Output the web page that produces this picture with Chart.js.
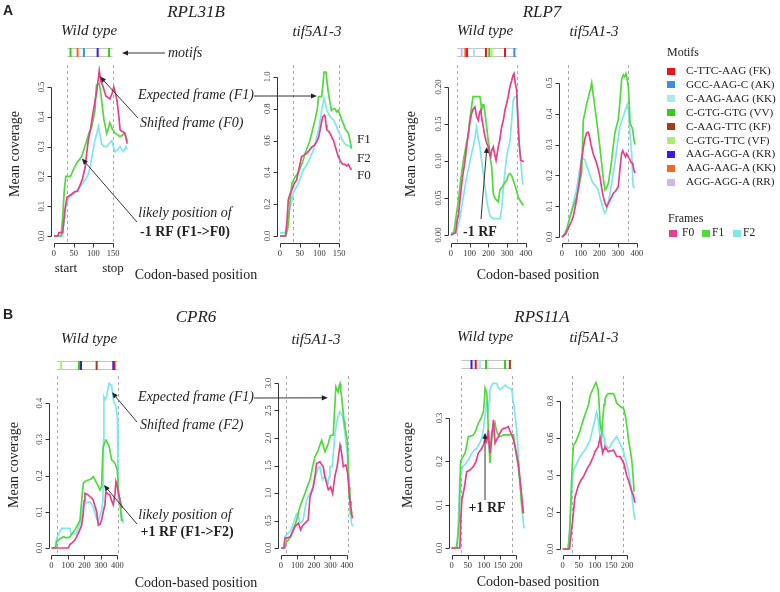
<!DOCTYPE html>
<html><head><meta charset="utf-8">
<script src="https://cdn.jsdelivr.net/npm/chart.js@4.4.1/dist/chart.umd.min.js"></script>
<style>
body{margin:0;background:#fff;}
#wrap{position:relative;width:780px;height:592px;overflow:hidden;font-family:"Liberation Serif",serif;color:#222;background:#fff;}
#wrap canvas{position:absolute;left:0;top:0;}
.t{position:absolute;white-space:nowrap;line-height:1;transform:translate(-50%,-50%);}
.l{transform:translate(0,-50%);}
.i{font-style:italic;}
.b{font-weight:bold;}
.rot{transform:translate(-50%,-50%) rotate(-90deg);}
.sq{position:absolute;width:8px;height:7px;}
</style></head>
<body><div id="wrap"></div>
<script>
// ---------------- colours ----------------
const FRAME_NAMES = ['F0','F1','F2'];
const FRAME_COLORS = ['#e6408c','#52d93f','#80e6ee'];
const MOTIF_KEYS = ['FK','AK','KK','VV','KF','VF','KR','KK2','RR'];
const MOTIF_NAMES = ['C-TTC-AAG (FK)','GCC-AAG-C (AK)','C-AAG-AAG (KK)','C-GTG-GTG (VV)','C-AAG-TTC (KF)','C-GTG-TTC (VF)','AAG-AGG-A (KR)','AAG-AAG-A (KK)','AGG-AGG-A (RR)'];
const MOTIF_COLORS = ['#e8161e','#3a8fe0','#aee6ee','#33cc1a','#a33d1a','#aaf06e','#3a1ae8','#f06a1e','#d2b4f0'];

// ---------------- tick labels ----------------
const ticks_x150 = ['0','50','100','150'];
const ticks_x400 = ['0','100','200','300','400'];
const ticks_x200 = ['0','50','100','150','200'];
const rpl31b_wt_yticks = ['0.0','0.1','0.2','0.3','0.4','0.5'];
const rpl31b_tif_yticks = ['0.0','0.2','0.4','0.6','0.8','1.0'];
const rlp7_wt_yticks = ['0.00','0.05','0.10','0.15','0.20'];
const rlp7_tif_yticks = ['0.0','0.1','0.2','0.3','0.4','0.5'];
const cpr6_wt_yticks = ['0.0','0.1','0.2','0.3','0.4'];
const cpr6_tif_yticks = ['0.0','0.5','1.0','1.5','2.0','2.5','3.0'];
const rps11a_wt_yticks = ['0.0','0.1','0.2','0.3'];
const rps11a_tif_yticks = ['0.0','0.2','0.4','0.6','0.8'];

// ---------------- CDS (start, stop codon) ----------------
const rpl31b_cds = [34,149];
const rlp7_cds = [33,355];
const cpr6_cds = [33,404];
const rps11a_cds = [30,188];

// ---------------- motifs [codon, key] ----------------
const rpl31b_motifs = [[42,'VV'],[60,'KK2'],[76,'AK'],[111,'KR'],[140,'VV']];
const rlp7_motifs = [[57,'RR'],[77,'KK2'],[86,'FK'],[123,'KK'],[187,'FK'],[205,'VV'],[218,'VF'],[289,'FK'],[339,'AK']];
const cpr6_motifs = [[58,'VF'],[167,'VV'],[179,'KR'],[274,'KF'],[375,'KR'],[382,'FK']];
const rps11a_motifs = [[62,'KR'],[75,'FK'],[88,'KK'],[107,'VV'],[166,'VV'],[181,'KF']];

// ---------------- coverage series [codon, mean coverage] ----------------
const rpl31b_wt_f0 = [[0,0],[10,0],[12,0.011],[22,0.011],[28,0.09],[33,0.13],[41,0.137],[53,0.149],[60,0.15],[66,0.17],[72,0.19],[79,0.23],[87,0.32],[93,0.36],[100,0.42],[108,0.48],[112,0.52],[115,0.555],[119,0.52],[125,0.50],[132,0.47],[142,0.46],[148,0.48],[152,0.50],[156,0.48],[160,0.456],[165,0.40],[168,0.356],[175,0.35],[180,0.345],[183,0.33],[186,0.31]];
const rpl31b_wt_f1 = [[0,0],[18,0],[22,0.06],[26,0.15],[30,0.2],[42,0.2],[50,0.225],[58,0.245],[70,0.266],[76,0.29],[83,0.32],[90,0.35],[96,0.367],[104,0.42],[106,0.47],[108,0.507],[112,0.51],[115,0.512],[118,0.49],[121,0.456],[127,0.39],[134,0.345],[138,0.36],[142,0.38],[148,0.36],[155,0.345],[162,0.34],[168,0.333],[175,0.34],[180,0.345],[186,0.32]];
const rpl31b_wt_f2 = [[0,0],[22,0],[28,0.08],[34,0.12],[40,0.13],[50,0.14],[58,0.154],[66,0.165],[72,0.175],[79,0.188],[85,0.2],[92,0.23],[98,0.28],[104,0.32],[110,0.35],[113,0.367],[117,0.34],[121,0.31],[127,0.30],[134,0.30],[140,0.31],[147,0.32],[151,0.30],[155,0.283],[162,0.29],[168,0.30],[172,0.29],[176,0.283],[180,0.29],[183,0.30],[186,0.29]];

const rpl31b_tif_f0 = [[0,0],[14,0],[18,0.1],[21,0.226],[25,0.26],[30,0.29],[36,0.33],[42,0.35],[48,0.42],[55,0.50],[62,0.51],[68,0.52],[75,0.54],[81,0.56],[87,0.57],[93,0.59],[98,0.62],[102,0.667],[106,0.72],[109,0.75],[113,0.76],[115,0.75],[117,0.70],[119,0.667],[123,0.66],[127,0.646],[132,0.62],[136,0.60],[142,0.55],[148,0.50],[152,0.48],[157,0.457],[161,0.45],[165,0.45],[170,0.44],[174,0.45],[178,0.43],[182,0.415]];
const rpl31b_tif_f1 = [[0,0],[15,0],[20,0.05],[25,0.2],[30,0.33],[38,0.37],[44,0.39],[51,0.425],[58,0.47],[64,0.52],[70,0.56],[76,0.60],[82,0.66],[89,0.73],[95,0.80],[98,0.876],[106,0.876],[109,0.95],[112,1.03],[117,1.03],[120,0.96],[123,0.90],[127,0.84],[131,0.79],[136,0.80],[140,0.80],[144,0.78],[148,0.79],[153,0.76],[157,0.73],[162,0.70],[165,0.677],[170,0.66],[174,0.646],[178,0.60],[182,0.55]];
const rpl31b_tif_f2 = [[0,0.02],[12,0.02],[18,0.05],[22,0.12],[25,0.18],[30,0.23],[34,0.27],[40,0.30],[47,0.33],[53,0.37],[59,0.415],[66,0.44],[72,0.467],[78,0.50],[85,0.54],[91,0.60],[98,0.667],[103,0.74],[106,0.79],[109,0.83],[112,0.866],[115,0.84],[119,0.79],[123,0.77],[127,0.75],[132,0.74],[136,0.73],[140,0.71],[144,0.687],[148,0.66],[153,0.635],[159,0.60],[165,0.58],[170,0.57],[174,0.57],[178,0.56],[182,0.55]];

const rlp7_wt_f0 = [[0,0],[25,0.003],[33,0.02],[40,0.027],[48,0.047],[60,0.075],[75,0.10],[84,0.12],[93,0.137],[100,0.15],[110,0.164],[118,0.17],[128,0.173],[137,0.16],[146,0.155],[152,0.165],[159,0.169],[166,0.155],[173,0.146],[180,0.135],[187,0.128],[194,0.122],[200,0.119],[206,0.11],[212,0.106],[219,0.115],[226,0.119],[233,0.11],[241,0.101],[247,0.11],[253,0.119],[262,0.13],[271,0.146],[280,0.155],[289,0.169],[298,0.178],[306,0.187],[315,0.2],[325,0.209],[331,0.215],[337,0.218],[344,0.205],[351,0.196],[356,0.17],[360,0.146],[366,0.12],[373,0.101],[390,0.099]];
const rlp7_wt_f1 = [[0,0],[15,0.003],[22,0.015],[30,0.03],[40,0.047],[52,0.075],[66,0.10],[80,0.12],[93,0.137],[100,0.155],[110,0.173],[118,0.187],[128,0.187],[140,0.187],[155,0.187],[164,0.169],[170,0.176],[176,0.176],[184,0.16],[191,0.146],[198,0.13],[205,0.119],[212,0.10],[218,0.092],[226,0.056],[235,0.05],[244,0.047],[253,0.045],[262,0.061],[275,0.065],[286,0.07],[298,0.074],[306,0.08],[316,0.083],[325,0.08],[333,0.074],[345,0.065],[355,0.056],[362,0.05],[369,0.047],[378,0.043],[390,0.04]];
const rlp7_wt_f2 = [[0,0.003],[28,0.003],[35,0.01],[45,0.02],[55,0.035],[65,0.05],[75,0.065],[85,0.08],[94,0.09],[102,0.10],[110,0.11],[119,0.119],[128,0.132],[137,0.146],[146,0.13],[155,0.119],[164,0.1],[173,0.083],[182,0.065],[191,0.047],[200,0.035],[210,0.025],[226,0.022],[245,0.022],[262,0.022],[268,0.03],[275,0.045],[280,0.065],[289,0.085],[298,0.106],[307,0.117],[316,0.128],[325,0.155],[333,0.182],[342,0.187],[351,0.187],[356,0.16],[360,0.146],[366,0.12],[373,0.101],[378,0.085],[383,0.07],[390,0.068]];

const rlp7_tif_f0 = [[0,0],[20,0.01],[35,0.03],[50,0.05],[60,0.066],[78,0.12],[96,0.196],[105,0.25],[114,0.29],[123,0.32],[132,0.337],[140,0.34],[146,0.33],[155,0.30],[167,0.27],[176,0.255],[185,0.24],[194,0.22],[203,0.196],[212,0.16],[221,0.13],[230,0.11],[239,0.098],[248,0.11],[257,0.12],[266,0.13],[275,0.142],[288,0.15],[301,0.163],[310,0.22],[319,0.27],[325,0.28],[332,0.27],[340,0.26],[346,0.27],[355,0.26],[364,0.25],[371,0.24],[378,0.24],[384,0.22],[390,0.207]];
const rlp7_tif_f1 = [[0,0],[15,0.01],[28,0.03],[43,0.066],[60,0.10],[78,0.13],[92,0.17],[105,0.207],[110,0.3],[114,0.38],[122,0.40],[132,0.434],[140,0.45],[146,0.466],[152,0.48],[159,0.50],[165,0.47],[170,0.45],[176,0.42],[185,0.38],[194,0.337],[203,0.29],[212,0.24],[221,0.19],[230,0.153],[239,0.16],[248,0.174],[257,0.21],[266,0.25],[275,0.30],[283,0.337],[292,0.36],[301,0.38],[310,0.44],[319,0.51],[328,0.526],[335,0.52],[342,0.53],[349,0.51],[355,0.488],[360,0.43],[364,0.37],[371,0.36],[378,0.35],[384,0.32],[390,0.30]];
const rlp7_tif_f2 = [[0,0],[15,0.01],[28,0.03],[43,0.066],[60,0.11],[78,0.153],[92,0.21],[105,0.26],[114,0.255],[123,0.25],[132,0.23],[141,0.217],[150,0.2],[158,0.185],[167,0.174],[180,0.165],[194,0.153],[203,0.13],[212,0.11],[221,0.09],[230,0.077],[239,0.09],[248,0.11],[257,0.14],[266,0.174],[275,0.21],[283,0.24],[290,0.27],[296,0.30],[303,0.33],[310,0.358],[319,0.375],[328,0.39],[338,0.41],[349,0.43],[355,0.41],[360,0.37],[366,0.32],[373,0.27],[378,0.2],[381,0.163],[390,0.16]];

const cpr6_wt_f0 = [[0,0],[102,0],[112,0.01],[122,0.013],[142,0.022],[162,0.04],[183,0.063],[193,0.096],[198,0.13],[203,0.151],[218,0.148],[233,0.142],[245,0.138],[253,0.133],[264,0.115],[274,0.1],[284,0.063],[294,0.065],[304,0.077],[314,0.1],[324,0.119],[330,0.155],[340,0.15],[354,0.146],[365,0.13],[375,0.119],[385,0.15],[391,0.183],[399,0.17],[407,0.15],[415,0.133],[422,0.12],[431,0.11]];
const cpr6_wt_f1 = [[0,0],[25,0],[31,0.017],[50,0.025],[72,0.031],[90,0.028],[110,0.03],[125,0.04],[142,0.05],[160,0.065],[173,0.077],[183,0.13],[193,0.179],[208,0.185],[223,0.188],[238,0.19],[253,0.197],[264,0.188],[274,0.179],[284,0.17],[294,0.16],[304,0.17],[310,0.25],[314,0.28],[322,0.29],[330,0.298],[340,0.29],[350,0.28],[358,0.26],[365,0.243],[375,0.24],[385,0.234],[392,0.225],[399,0.215],[405,0.17],[410,0.14],[415,0.133],[420,0.1],[425,0.077],[435,0.077]];
const cpr6_wt_f2 = [[0,0],[22,0],[31,0.027],[45,0.04],[62,0.054],[112,0.054],[118,0.04],[150,0.04],[165,0.06],[173,0.068],[183,0.09],[193,0.119],[213,0.125],[233,0.128],[245,0.12],[255,0.11],[264,0.096],[275,0.08],[284,0.073],[294,0.09],[304,0.105],[312,0.133],[316,0.3],[318,0.418],[326,0.41],[334,0.418],[342,0.44],[350,0.455],[358,0.45],[365,0.45],[370,0.43],[375,0.409],[383,0.4],[391,0.39],[397,0.37],[400,0.354],[403,0.2],[405,0.133],[415,0.12],[425,0.096],[435,0.068]];

const cpr6_tif_f0 = [[0,0],[18,0],[24,0.18],[40,0.19],[55,0.2],[70,0.3],[85,0.39],[95,0.42],[105,0.45],[112,0.4],[119,0.33],[130,0.4],[145,0.45],[155,0.48],[165,0.51],[170,0.7],[176,0.93],[186,1.02],[196,1.11],[206,1.3],[216,1.54],[226,1.55],[236,1.57],[246,1.52],[256,1.48],[266,1.3],[277,1.18],[287,1.06],[294,1.08],[301,1.11],[307,1.05],[313,0.99],[320,1.15],[327,1.3],[334,1.4],[341,1.48],[350,1.7],[358,1.87],[363,1.8],[368,1.72],[373,1.6],[378,1.48],[386,1.5],[394,1.51],[404,1.36],[409,1.2],[414,0.99],[419,0.85],[424,0.75],[429,0.62],[434,0.54]];
const cpr6_tif_f1 = [[0,0],[20,0],[24,0.02],[30,0.08],[34,0.11],[50,0.17],[65,0.24],[80,0.38],[95,0.51],[105,0.63],[115,0.75],[130,0.87],[145,0.99],[160,1.12],[176,1.24],[190,1.45],[206,1.66],[216,1.72],[226,1.78],[237,1.88],[247,1.96],[257,1.85],[267,1.75],[277,1.82],[287,1.90],[294,1.98],[301,2.05],[309,2.05],[317,2.05],[325,2.5],[333,2.93],[340,2.88],[347,2.84],[353,2.95],[358,2.99],[363,2.85],[368,2.75],[373,2.6],[378,2.45],[383,2.3],[388,2.2],[395,2.08],[402,1.96],[408,1.5],[414,1.11],[418,0.85],[422,0.63],[432,0.66]];
const cpr6_tif_f2 = [[0,0],[18,0],[24,0.2],[34,0.24],[44,0.27],[55,0.3],[65,0.36],[75,0.45],[85,0.54],[92,0.6],[99,0.63],[107,0.55],[115,0.45],[125,0.48],[135,0.51],[145,0.7],[156,0.87],[170,0.96],[186,1.05],[196,1.15],[206,1.27],[216,1.36],[226,1.45],[236,1.48],[244,1.35],[252,1.24],[260,1.28],[267,1.30],[277,1.24],[287,1.18],[292,1.3],[297,1.48],[304,1.48],[311,1.48],[318,1.75],[327,2.05],[334,2.2],[341,2.33],[350,2.42],[358,2.48],[366,2.44],[374,2.39],[381,2.25],[388,2.08],[395,1.9],[402,1.72],[408,1.35],[414,0.99],[420,0.7],[428,0.45],[434,0.39]];

const rps11a_wt_f0 = [[0,0],[26,0],[29,0.07],[32,0.11],[40,0.14],[47,0.176],[57,0.18],[68,0.188],[76,0.2],[83,0.219],[94,0.23],[100,0.24],[104,0.253],[109,0.245],[112,0.26],[114,0.273],[117,0.24],[119,0.219],[122,0.24],[125,0.265],[128,0.28],[130,0.296],[133,0.26],[135,0.242],[140,0.25],[145,0.257],[150,0.265],[156,0.273],[161,0.276],[166,0.276],[171,0.278],[176,0.28],[181,0.27],[187,0.261],[192,0.25],[197,0.234],[202,0.215],[207,0.196],[212,0.16],[218,0.118],[223,0.08]];
const rps11a_wt_f1 = [[0,0],[15,0],[20,0.03],[24,0.065],[28,0.2],[35,0.21],[42,0.219],[48,0.24],[52,0.257],[67,0.26],[75,0.27],[83,0.288],[92,0.3],[99,0.315],[102,0.34],[104,0.369],[109,0.36],[112,0.32],[114,0.273],[117,0.23],[119,0.196],[122,0.226],[125,0.25],[128,0.273],[135,0.288],[138,0.275],[142,0.265],[150,0.257],[161,0.261],[171,0.261],[181,0.261],[188,0.261],[192,0.261],[197,0.234],[202,0.21],[207,0.188],[212,0.15],[218,0.095],[221,0.08]];
const rps11a_wt_f2 = [[0,0],[18,0],[22,0.08],[26,0.165],[35,0.188],[45,0.195],[52,0.203],[63,0.219],[70,0.225],[78,0.23],[86,0.24],[94,0.253],[100,0.28],[104,0.303],[109,0.334],[112,0.33],[114,0.32],[117,0.34],[119,0.365],[124,0.375],[128,0.38],[134,0.38],[140,0.38],[145,0.37],[150,0.365],[158,0.37],[166,0.376],[176,0.37],[184,0.368],[187,0.365],[190,0.345],[194,0.326],[198,0.3],[202,0.273],[206,0.23],[210,0.18],[214,0.14],[218,0.095],[222,0.065],[225,0.045]];

const rps11a_tif_f0 = [[0,0],[21,0],[26,0.08],[31,0.157],[35,0.23],[38,0.28],[43,0.31],[48,0.34],[56,0.37],[64,0.39],[72,0.42],[79,0.445],[85,0.46],[90,0.48],[95,0.5],[100,0.526],[105,0.54],[110,0.553],[113,0.58],[116,0.60],[120,0.56],[124,0.52],[128,0.54],[131,0.553],[136,0.54],[141,0.526],[149,0.53],[157,0.535],[162,0.52],[167,0.50],[172,0.50],[178,0.50],[184,0.48],[190,0.46],[194,0.43],[198,0.40],[204,0.37],[209,0.34],[214,0.31],[219,0.29],[224,0.25]];
const rps11a_tif_f1 = [[0,0],[17,0],[22,0.1],[28,0.39],[33,0.56],[38,0.57],[43,0.59],[54,0.64],[64,0.70],[74,0.75],[80,0.78],[85,0.83],[95,0.87],[103,0.90],[107,0.88],[110,0.86],[113,0.78],[116,0.68],[121,0.625],[124,0.7],[128,0.78],[131,0.81],[136,0.83],[141,0.84],[149,0.84],[157,0.84],[162,0.82],[167,0.79],[172,0.78],[178,0.77],[183,0.765],[188,0.76],[192,0.74],[196,0.70],[200,0.65],[204,0.59],[209,0.54],[214,0.48],[218,0.4],[221,0.31]];
const rps11a_tif_f2 = [[0,0],[17,0],[21,0.1],[25,0.23],[29,0.35],[33,0.42],[38,0.44],[43,0.46],[54,0.50],[62,0.52],[69,0.535],[77,0.56],[85,0.59],[93,0.65],[100,0.70],[105,0.74],[110,0.70],[114,0.63],[118,0.57],[124,0.634],[128,0.6],[131,0.57],[136,0.555],[141,0.544],[146,0.55],[152,0.57],[160,0.59],[167,0.607],[172,0.59],[178,0.57],[184,0.545],[190,0.517],[198,0.46],[204,0.42],[209,0.37],[213,0.32],[216,0.265],[220,0.2],[224,0.157]];

// ---------------- panel layout ----------------
const panels = [
 {id:'A1', box:[51,65,130,243], xr:[-7.6,193.2], yr:[-0.0235,0.574], cds:rpl31b_cds, xt:ticks_x150, yt:rpl31b_wt_yticks, s:[rpl31b_wt_f0,rpl31b_wt_f1,rpl31b_wt_f2], motifs:rpl31b_motifs, bar:[48,57]},
 {id:'A2', box:[277,65,356,243], xr:[-7.6,193.2], yr:[-0.044,1.075], cds:rpl31b_cds, xt:ticks_x150, yt:rpl31b_tif_yticks, s:[rpl31b_tif_f0,rpl31b_tif_f1,rpl31b_tif_f2]},
 {id:'A3', box:[448,65,526.8,243], xr:[-16,405.6], yr:[-0.0108,0.2297], cds:rlp7_cds, xt:ticks_x400, yt:rlp7_wt_yticks, s:[rlp7_wt_f0,rlp7_wt_f1,rlp7_wt_f2], motifs:rlp7_motifs, bar:[48,57]},
 {id:'A4', box:[559,65,637.8,243], xr:[-16,405.6], yr:[-0.0195,0.558], cds:rlp7_cds, xt:ticks_x400, yt:rlp7_tif_yticks, s:[rlp7_tif_f0,rlp7_tif_f1,rlp7_tif_f2]},
 {id:'B1', box:[48.5,376,126,555], xr:[-18.2,452], yr:[-0.0193,0.475], cds:cpr6_cds, xt:ticks_x400, yt:cpr6_wt_yticks, s:[cpr6_wt_f0,cpr6_wt_f1,cpr6_wt_f2], motifs:cpr6_motifs, bar:[361,370]},
 {id:'B2', box:[278,376,355.5,555], xr:[-18.2,452], yr:[-0.127,3.127], cds:cpr6_cds, xt:ticks_x400, yt:cpr6_tif_yticks, s:[cpr6_tif_f0,cpr6_tif_f1,cpr6_tif_f2]},
 {id:'B3', box:[448.6,376,527,555], xr:[-9,234], yr:[-0.0162,0.397], cds:rps11a_cds, xt:ticks_x200, yt:rps11a_wt_yticks, s:[rps11a_wt_f0,rps11a_wt_f1,rps11a_wt_f2], motifs:rps11a_motifs, bar:[360,369]},
 {id:'B4', box:[559.8,376,638.2,555], xr:[-9,234], yr:[-0.0324,0.935], cds:rps11a_cds, xt:ticks_x200, yt:rps11a_tif_yticks, s:[rps11a_tif_f0,rps11a_tif_f1,rps11a_tif_f2]}
];

const W = 780, H = 592;
const wrap = document.getElementById('wrap');
const TICKFONT = '8.5px "Liberation Serif"';

function rPlugin(p){
  return {
    id:'r'+p.id,
    beforeDatasetsDraw(chart){
      const {ctx, chartArea:a} = chart, x = chart.scales.x;
      ctx.save();
      ctx.strokeStyle = '#aaaaaa'; ctx.lineWidth = 1; ctx.setLineDash([3,3]);
      p.cds.forEach(c => {
        const px = Math.round(x.getPixelForValue(c)) + 0.5;
        ctx.beginPath(); ctx.moveTo(px, a.top); ctx.lineTo(px, a.bottom); ctx.stroke();
      });
      ctx.restore();
    },
    afterDraw(chart){
      const {ctx, chartArea:a} = chart, x = chart.scales.x, y = chart.scales.y;
      ctx.save();
      ctx.strokeStyle = '#333'; ctx.fillStyle = '#333'; ctx.lineWidth = 1; ctx.setLineDash([]);
      ctx.font = TICKFONT;
      const xv = p.xt.map(Number);
      const xb = Math.round(a.bottom) + 0.5;
      ctx.beginPath();
      ctx.moveTo(Math.round(x.getPixelForValue(xv[0]))+0.5, xb);
      ctx.lineTo(Math.round(x.getPixelForValue(xv[xv.length-1]))+0.5, xb);
      xv.forEach(v => { const px = Math.round(x.getPixelForValue(v))+0.5; ctx.moveTo(px, xb); ctx.lineTo(px, xb+4); });
      ctx.stroke();
      ctx.textAlign = 'center'; ctx.textBaseline = 'middle';
      p.xt.forEach(t => ctx.fillText(t, x.getPixelForValue(+t), xb + 10));
      const yv = p.yt.map(Number);
      const yl = Math.round(a.left) + 0.5;
      ctx.beginPath();
      ctx.moveTo(yl, Math.round(y.getPixelForValue(yv[0]))+0.5);
      ctx.lineTo(yl, Math.round(y.getPixelForValue(yv[yv.length-1]))+0.5);
      yv.forEach(v => { const py = Math.round(y.getPixelForValue(v))+0.5; ctx.moveTo(yl, py); ctx.lineTo(yl-4, py); });
      ctx.stroke();
      p.yt.forEach(t => {
        ctx.save(); ctx.translate(yl - 10, y.getPixelForValue(+t)); ctx.rotate(-Math.PI/2);
        ctx.fillText(t, 0, 0); ctx.restore();
      });
      if (p.motifs){
        const x0 = x.getPixelForValue(p.cds[0]), x1 = x.getPixelForValue(p.cds[1]);
        const [t0, t1] = p.bar;
        ctx.fillStyle = '#fff'; ctx.fillRect(x0, t0, x1-x0, t1-t0);
        ctx.strokeStyle = '#c4c4c4';
        ctx.beginPath(); ctx.moveTo(x0, t0+0.5); ctx.lineTo(x1, t0+0.5); ctx.moveTo(x0, t1-0.5); ctx.lineTo(x1, t1-0.5); ctx.stroke();
        p.motifs.forEach(([c,k]) => {
          const px = x.getPixelForValue(c);
          ctx.fillStyle = MOTIF_COLORS[MOTIF_KEYS.indexOf(k)];
          ctx.fillRect(px-1, t0, 2, t1-t0);
        });
      }
      ctx.restore();
    }
  };
}

const charts = {};
panels.forEach(p => {
  const cv = document.createElement('canvas');
  cv.width = W; cv.height = H;
  wrap.appendChild(cv);
  const [L,T,R,B] = p.box;
  charts[p.id] = new Chart(cv, {
    type:'line',
    data:{datasets: p.s.map((ser,i) => ({
      label: FRAME_NAMES[i],
      data: ser.map(([cx,v]) => ({x:cx, y:v})),
      borderColor: FRAME_COLORS[i], borderWidth: 1.7,
      pointRadius: 0, tension: 0, fill: false,
      order: i
    }))},
    options:{
      responsive:false, animation:false, devicePixelRatio:1,
      layout:{padding:{left:L, top:T, right:W-R, bottom:H-B}},
      scales:{
        x:{type:'linear', display:false, min:p.xr[0], max:p.xr[1]},
        y:{type:'linear', display:false, min:p.yr[0], max:p.yr[1]}
      },
      plugins:{legend:{display:false}, tooltip:{enabled:false}}
    },
    plugins:[rPlugin(p)]
  });
});

// ---------------- arrows ----------------
const arrows = [
  {from:[165,53], to:[122,53]},
  {from:[254,96], target:['A2',94,0.88]},
  {from:[138,118], target:['A1',117,0.535]},
  {from:[137,222], target:['A1',71,0.26]},
  {from:[481,219], target:['A3',192,0.119]},
  {from:[254,398], target:['B2',284,2.73]},
  {from:[137,422], target:['B1',367,0.43]},
  {from:[137,524], target:['B1',318,0.174]},
  {from:[485,500], target:['B3',104,0.266]}
];
const ov = document.createElement('canvas'); ov.width = W; ov.height = H; wrap.appendChild(ov);
const octx = ov.getContext('2d');
octx.strokeStyle = '#333'; octx.fillStyle = '#222'; octx.lineWidth = 1;
arrows.forEach(a => {
  let to = a.to;
  if (a.target){ const c = charts[a.target[0]]; to = [c.scales.x.getPixelForValue(a.target[1]), c.scales.y.getPixelForValue(a.target[2])]; }
  const [x0,y0] = a.from, [x1,y1] = to;
  const ang = Math.atan2(y1-y0, x1-x0), hl = 6, hw = 2.6;
  octx.beginPath(); octx.moveTo(x0,y0); octx.lineTo(x1 - Math.cos(ang)*hl*0.8, y1 - Math.sin(ang)*hl*0.8); octx.stroke();
  octx.beginPath(); octx.moveTo(x1,y1);
  octx.lineTo(x1 - Math.cos(ang)*hl - Math.sin(ang)*hw, y1 - Math.sin(ang)*hl + Math.cos(ang)*hw);
  octx.lineTo(x1 - Math.cos(ang)*hl + Math.sin(ang)*hw, y1 - Math.sin(ang)*hl - Math.cos(ang)*hw);
  octx.closePath(); octx.fill();
});

// ---------------- text ----------------
function txt(s, x, y, cls, size, extra){
  const d = document.createElement('div');
  d.className = 't ' + (cls||'');
  d.textContent = s;
  d.style.left = x + 'px'; d.style.top = y + 'px';
  d.style.fontSize = size + 'px';
  if (extra) Object.assign(d.style, extra);
  wrap.appendChild(d);
  return d;
}
const SANS = {fontFamily:'"Liberation Sans",sans-serif'};
txt('A', 8, 10, 'b', 14, SANS);
txt('B', 8, 314, 'b', 14, SANS);
txt('RPL31B', 196, 11, 'i', 17);
txt('RLP7', 542, 11, 'i', 17);
txt('CPR6', 196, 316, 'i', 17);
txt('RPS11A', 542, 316, 'i', 17);
txt('Wild type', 89, 30, 'i', 15);
txt('tif5A1-3', 317, 31, 'i', 15);
txt('Wild type', 485, 30, 'i', 15);
txt('tif5A1-3', 594, 31, 'i', 15);
txt('Wild type', 89, 338, 'i', 15);
txt('tif5A1-3', 316, 339, 'i', 15);
txt('Wild type', 485, 336, 'i', 15);
txt('tif5A1-3', 594, 337, 'i', 15);
txt('motifs', 168, 53, 'i l', 14);
txt('Expected frame (F1)', 196, 95, 'i', 14);
txt('Shifted frame (F0)', 140, 123, 'i l', 14);
txt('likely position of', 185, 213, 'i', 14);
txt('-1 RF (F1->F0)', 185, 232, 'b', 14);
txt('F1', 357, 138, 'l', 13);
txt('F2', 357, 157, 'l', 13);
txt('F0', 357, 174, 'l', 13);
txt('-1 RF', 480, 232, 'b', 14);
txt('start', 66, 267, '', 13);
txt('stop', 113, 267, '', 13);
txt('Codon-based position', 196, 275, '', 14);
txt('Codon-based position', 538, 275, '', 14);
txt('Mean coverage', 15, 154, 'rot', 14);
txt('Mean coverage', 411, 154, 'rot', 14);
txt('Expected frame (F1)', 196, 397, 'i', 14);
txt('Shifted frame (F2)', 140, 425, 'i l', 14);
txt('likely position of', 185, 515, 'i', 14);
txt('+1 RF (F1->F2)', 187, 532, 'b', 14);
txt('+1 RF', 487, 508, 'b', 14);
txt('Codon-based position', 196, 583, '', 14);
txt('Codon-based position', 538, 582, '', 14);
txt('Mean coverage', 14, 465, 'rot', 14);
txt('Mean coverage', 408, 465, 'rot', 14);

// legend
txt('Motifs', 667, 52, 'l', 12);
MOTIF_NAMES.forEach((n,i) => {
  const yy = 71 + i*13.9;
  const sq = document.createElement('div'); sq.className = 'sq';
  sq.style.left = '667px'; sq.style.top = (yy-3.5)+'px'; sq.style.background = MOTIF_COLORS[i];
  wrap.appendChild(sq);
  txt(n, 686, yy, 'l', 11.2);
});
txt('Frames', 668, 218, 'l', 12);
[[669,682],[702,712],[733,743]].forEach(([sx,tx],i) => {
  const sq = document.createElement('div'); sq.className = 'sq';
  sq.style.left = sx+'px'; sq.style.top = (233-3.5)+'px'; sq.style.background = FRAME_COLORS[i];
  wrap.appendChild(sq);
  txt(FRAME_NAMES[i], tx, 233, 'l', 11.5);
});
</script>
</body></html>
